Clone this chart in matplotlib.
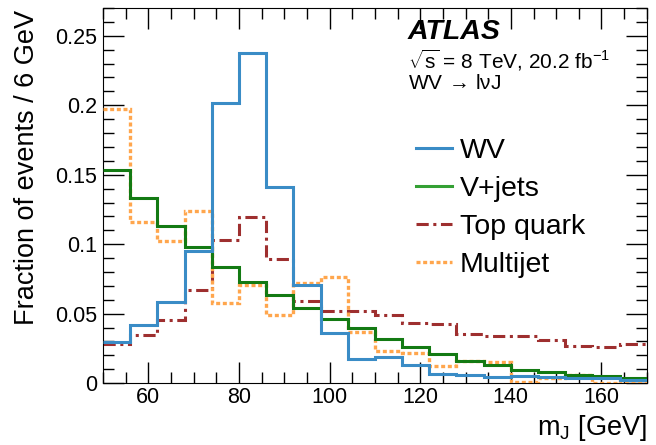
import numpy as np
import matplotlib
matplotlib.use("Agg")
import matplotlib.pyplot as plt
from matplotlib.lines import Line2D
from matplotlib.ticker import MultipleLocator, FuncFormatter

plt.rcParams['font.family'] = ['Liberation Sans', 'DejaVu Sans']
plt.rcParams['mathtext.fontset'] = 'custom'
plt.rcParams['mathtext.rm'] = 'Liberation Sans'
plt.rcParams['mathtext.it'] = 'Liberation Sans:italic'

# bin edges, 6 GeV wide
edges = np.arange(50, 171, 6)

wv = [0.0293, 0.0415, 0.0585, 0.0954, 0.2014, 0.2379, 0.1415, 0.0707, 0.0360, 0.0175,
      0.0185, 0.0127, 0.0067, 0.0060, 0.0045, 0.0053, 0.0041, 0.0036, 0.0040, 0.0024]
vjets = [0.1535, 0.1336, 0.1134, 0.0978, 0.0835, 0.0731, 0.0633, 0.0540, 0.0460, 0.0396,
         0.0319, 0.0259, 0.0209, 0.0160, 0.0130, 0.0096, 0.0079, 0.0062, 0.0050, 0.0036]
top = [0.0283, 0.0348, 0.0451, 0.0669, 0.1031, 0.1194, 0.0894, 0.0590, 0.0522, 0.0516,
       0.0490, 0.0432, 0.0427, 0.0355, 0.0336, 0.0340, 0.0312, 0.0264, 0.0259, 0.0283]
multijet = [0.1974, 0.1163, 0.1026, 0.1242, 0.0580, 0.0707, 0.0487, 0.0719, 0.0763, 0.0367,
            0.0228, 0.0220, 0.0125, 0.0156, 0.0149, 0.0007, 0.0040, 0.0060, 0.0000, 0.0017]

c_wv, c_vj, c_top, c_mj = '#3a8cc6', '#137a13', '#9e2f2f', '#ffa64d'
ls_top = (0, (4, 1.5, 1, 1.5))
ls_mj = (0, (1.2, 0.8))

fig = plt.figure(figsize=(6.56, 4.45), dpi=100)
ax = fig.add_axes([0.157, 0.139, 0.829, 0.843])

ax.stairs(top, edges, baseline=None, color=c_top, lw=2.2, linestyle=ls_top, zorder=2)
ax.stairs(multijet, edges, baseline=None, color=c_mj, lw=2.4, linestyle=ls_mj, zorder=3)
ax.stairs(vjets, edges, baseline=None, color=c_vj, lw=2.2, zorder=4)
ax.stairs(wv, edges, baseline=None, color=c_wv, lw=2.2, zorder=5)

ax.set_xlim(50, 170)
ax.set_ylim(0, 0.27)

ax.xaxis.set_major_locator(MultipleLocator(20))
ax.xaxis.set_minor_locator(MultipleLocator(5))
ax.yaxis.set_major_locator(MultipleLocator(0.05))
ax.yaxis.set_minor_locator(MultipleLocator(0.01))
ax.yaxis.set_major_formatter(FuncFormatter(lambda v, p: '%g' % round(v, 3)))
ax.tick_params(which='both', direction='in', top=True, right=True, labelsize=15.5, width=1)
ax.tick_params(which='major', length=15)
ax.tick_params(which='minor', length=8)
ax.tick_params(axis='x', pad=3)
ax.tick_params(axis='y', pad=4)

ax.set_xlabel('m$_\\mathrm{J}$ [GeV]', fontsize=19.5, loc='right')
ax.set_ylabel('Fraction of events / 6 GeV', fontsize=19.5, loc='top')
ax.yaxis.set_label_coords(-0.115, 0.995)
ax.xaxis.set_label_coords(1.0, -0.08)

ax.text(0.56, 0.936, 'ATLAS', transform=ax.transAxes, fontsize=20.5,
        fontweight='bold', fontstyle='italic', va='center')
ax.text(0.56, 0.861, '$\\sqrt{\\mathrm{s}}$ = 8 TeV, 20.2 fb$^{\\mathrm{-1}}$',
        transform=ax.transAxes, fontsize=15, va='center')
ax.text(0.56, 0.80, 'WV $\\!\\rightarrow\\!$ l\u03bdJ', transform=ax.transAxes, fontsize=15,
        va='center')

handles = [Line2D([], [], color=c_wv, lw=2.2),
           Line2D([], [], color='#34a034', lw=2.2),
           Line2D([], [], color=c_top, lw=2.2, linestyle=ls_top),
           Line2D([], [], color=c_mj, lw=2.4, linestyle=ls_mj)]
labels = ['WV', 'V+jets', 'Top quark', 'Multijet']
ax.legend(handles, labels, loc='center left', bbox_to_anchor=(0.575, 0.468),
          frameon=False, fontsize=20.5, handlelength=1.26, handletextpad=0.28,
          labelspacing=0.42, borderpad=0, borderaxespad=0)

fig.savefig('out.png', dpi=100)
